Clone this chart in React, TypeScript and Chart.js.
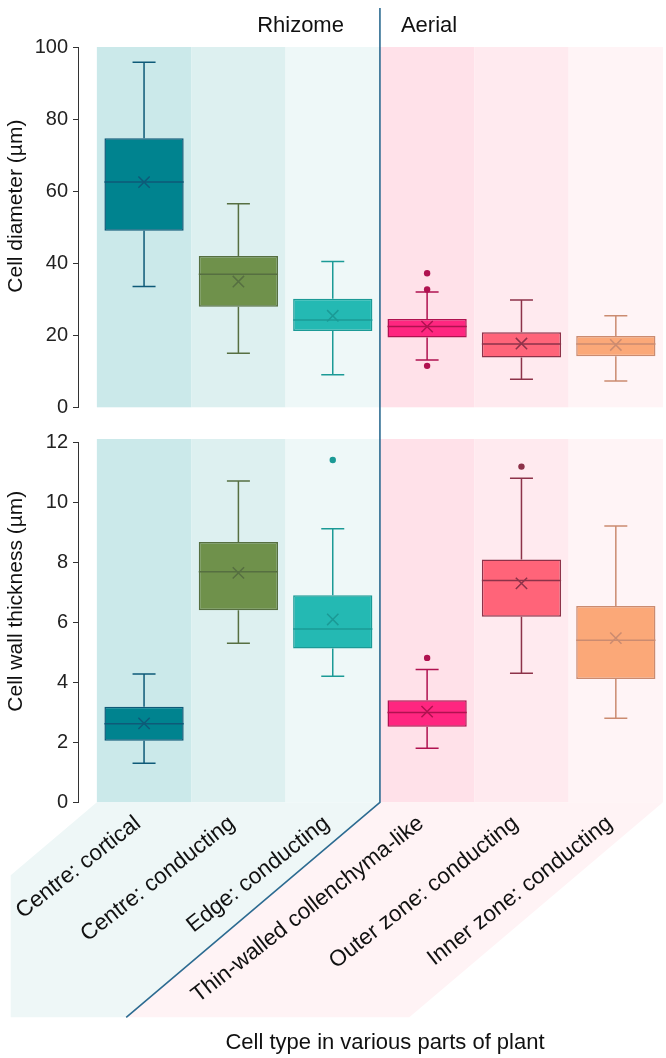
import React, { useEffect, useRef } from "react";
import { Chart, registerables } from "chart.js";

Chart.register(...registerables);

const FONT = '"Liberation Sans", Arial, Helvetica, sans-serif';

const categories = [
  "Centre: cortical",
  "Centre: conducting",
  "Edge: conducting",
  "Thin-walled collenchyma-like",
  "Outer zone: conducting",
  "Inner zone: conducting",
];
const groups = ["Rhizome", "Aerial"];
const xTitle = "Cell type in various parts of plant";

// Cell diameter (µm)
const diameterMin = [33.5, 15.0, 9.0, 13.1, 7.8, 7.3];
const diameterQ1 = [49.0, 27.9, 21.2, 19.4, 13.8, 14.2];
const diameterMedian = [62.5, 36.9, 24.2, 22.4, 17.6, 17.6];
const diameterQ3 = [74.7, 42.0, 30.1, 24.5, 20.8, 19.8];
const diameterMax = [95.8, 56.5, 40.5, 32.0, 29.8, 25.4];
const diameterMean = [62.5, 34.9, 25.4, 22.4, 17.7, 17.3];
const diameterOutlierCategory = [3, 3, 3];
const diameterOutlierValue = [37.2, 32.7, 11.5];
const diameterTicks = [0, 20, 40, 60, 80, 100];

// Cell wall thickness (µm)
const wallMin = [1.3, 5.3, 4.2, 1.8, 4.3, 2.8];
const wallQ1 = [2.05, 6.4, 5.12, 2.52, 6.18, 4.11];
const wallMedian = [2.62, 7.68, 5.77, 2.99, 7.39, 5.4];
const wallQ3 = [3.18, 8.67, 6.9, 3.4, 8.09, 6.54];
const wallMax = [4.27, 10.7, 9.11, 4.42, 10.79, 9.2];
const wallMean = [2.63, 7.64, 6.09, 3.02, 7.29, 5.47];
const wallOutlierCategory = [2, 3, 4];
const wallOutlierValue = [11.4, 4.81, 11.18];
const wallTicks = [0, 2, 4, 6, 8, 10, 12];

const boxFill = ["#00838f", "#6f914b", "#24b9b3", "#ff2680", "#ff6479", "#fba878"];
const boxEdge = ["#0e5a78", "#566f41", "#1b9a96", "#b01250", "#8d3249", "#cb8b70"];
const columnShade = ["#cbe9ea", "#ddf0f0", "#eef8f8", "#ffe1e9", "#ffeaef", "#fff4f6"];
const bandShade = ["#eef7f7", "#fff3f5"];
const DIVIDER = "#2c6b91";

const X_MIN = -0.7;
const X_MAX = 5.5;
const CAP_HALF = 11.5;

type Panel = {
  top: number;
  height: number;
  padTop: number;
  padBottom: number;
  xAxisHeight: number;
  yMax: number;
  ticks: number[];
  min: number[];
  q1: number[];
  median: number[];
  q3: number[];
  max: number[];
  mean: number[];
  outCat: number[];
  outVal: number[];
  yTitle: string;
  shadeExtra: number;
  dividerTop: number;
  showGroups: boolean;
  showCategories: boolean;
};

const panels: Panel[] = [
  {
    top: 0,
    height: 425,
    padTop: 47,
    padBottom: 17.7,
    xAxisHeight: 0,
    yMax: 100,
    ticks: diameterTicks,
    min: diameterMin,
    q1: diameterQ1,
    median: diameterMedian,
    q3: diameterQ3,
    max: diameterMax,
    mean: diameterMean,
    outCat: diameterOutlierCategory,
    outVal: diameterOutlierValue,
    yTitle: "Cell diameter (µm)",
    shadeExtra: 0,
    dividerTop: 8,
    showGroups: true,
    showCategories: false,
  },
  {
    top: 425,
    height: 633,
    padTop: 15,
    padBottom: 0,
    xAxisHeight: 255.7,
    yMax: 12,
    ticks: wallTicks,
    min: wallMin,
    q1: wallQ1,
    median: wallMedian,
    q3: wallQ3,
    max: wallMax,
    mean: wallMean,
    outCat: wallOutlierCategory,
    outVal: wallOutlierValue,
    yTitle: "Cell wall thickness (µm)",
    shadeExtra: 3,
    dividerTop: 0,
    showGroups: false,
    showCategories: true,
  },
];

function makeDecor(p: Panel) {
  const BAND_DEPTH = 215;
  const SLANT = 1.18;
  const BAND_LEFT = 10.7;
  return {
    id: "panelDecor",
    beforeDraw(chart: any) {
      const { ctx, chartArea: a } = chart;
      const x = chart.scales.x;
      ctx.save();
      columnShade.forEach((c, i) => {
        const l = x.getPixelForValue(i - 0.5);
        const r = x.getPixelForValue(i + 0.5);
        ctx.fillStyle = c;
        ctx.fillRect(l, a.top - p.shadeExtra, r - l, a.bottom - a.top + p.shadeExtra);
      });
      const xDiv = x.getPixelForValue(2.5);
      const yb = a.bottom + BAND_DEPTH;
      const xSlant = xDiv - SLANT * BAND_DEPTH;
      if (p.showCategories) {
        const left = x.getPixelForValue(-0.5);
        const right = x.getPixelForValue(5.5);
        ctx.fillStyle = bandShade[0];
        ctx.beginPath();
        ctx.moveTo(left, a.bottom);
        ctx.lineTo(xDiv, a.bottom);
        ctx.lineTo(xSlant, yb);
        ctx.lineTo(BAND_LEFT, yb);
        ctx.lineTo(BAND_LEFT, a.bottom + (left - BAND_LEFT) / SLANT);
        ctx.closePath();
        ctx.fill();
        ctx.fillStyle = bandShade[1];
        ctx.beginPath();
        ctx.moveTo(xDiv, a.bottom);
        ctx.lineTo(right, a.bottom);
        ctx.lineTo(right - SLANT * BAND_DEPTH, yb);
        ctx.lineTo(xSlant, yb);
        ctx.closePath();
        ctx.fill();
      }
      ctx.strokeStyle = DIVIDER;
      ctx.lineWidth = 1.6;
      ctx.beginPath();
      ctx.moveTo(xDiv, p.dividerTop);
      if (p.showCategories) {
        ctx.lineTo(xDiv, a.bottom);
        ctx.lineTo(xSlant, yb);
      } else {
        ctx.lineTo(xDiv, chart.height);
      }
      ctx.stroke();
      ctx.restore();
    },
    afterDatasetDraw(chart: any, args: any) {
      if (args.meta.type !== "bar") return;
      const { ctx } = chart;
      const y = chart.scales.y;
      ctx.save();
      ctx.lineWidth = 1.5;
      args.meta.data.forEach((bar: any, i: number) => {
        const { x: xc, width } = bar.getProps(["x", "width"], true);
        const pMin = y.getPixelForValue(p.min[i]);
        const pQ1 = y.getPixelForValue(p.q1[i]);
        const pMed = y.getPixelForValue(p.median[i]);
        const pQ3 = y.getPixelForValue(p.q3[i]);
        const pMax = y.getPixelForValue(p.max[i]);
        ctx.strokeStyle = boxEdge[i];
        ctx.beginPath();
        ctx.moveTo(xc, pQ3);
        ctx.lineTo(xc, pMax);
        ctx.moveTo(xc - CAP_HALF, pMax);
        ctx.lineTo(xc + CAP_HALF, pMax);
        ctx.moveTo(xc, pQ1);
        ctx.lineTo(xc, pMin);
        ctx.moveTo(xc - CAP_HALF, pMin);
        ctx.lineTo(xc + CAP_HALF, pMin);
        ctx.moveTo(xc - width / 2, pMed);
        ctx.lineTo(xc + width / 2, pMed);
        ctx.stroke();
      });
      ctx.restore();
    },
    afterDraw(chart: any) {
      const { ctx, chartArea: a } = chart;
      const x = chart.scales.x;
      const xDiv = x.getPixelForValue(2.5);
      ctx.save();
      ctx.fillStyle = "#111";
      ctx.font = `22px ${FONT}`;
      ctx.textBaseline = "alphabetic";
      if (p.showGroups) {
        ctx.textAlign = "right";
        ctx.fillText(groups[0], xDiv - 36, 31.7);
        ctx.textAlign = "left";
        ctx.fillText(groups[1], xDiv + 21, 31.7);
      }
      // y-axis title
      ctx.font = `21px ${FONT}`;
      ctx.textAlign = "center";
      ctx.save();
      ctx.translate(21.7, (a.top + a.bottom) / 2 - 21);
      ctx.rotate(-Math.PI / 2);
      ctx.fillText(p.yTitle, 0, 0);
      ctx.restore();
      if (p.showCategories) {
        ctx.font = `22px ${FONT}`;
        ctx.fillText(xTitle, 385, 624);
      }
      ctx.restore();
    },
  };
}

function makeConfig(p: Panel): any {
  const tickFont = { family: FONT, size: 20 };
  return {
    type: "bar",
    data: {
      datasets: [
        {
          type: "bar",
          order: 3,
          data: categories.map((_, i) => ({ x: i, y: [p.q1[i], p.q3[i]] })),
          backgroundColor: boxFill,
          borderColor: boxEdge,
          borderWidth: 1.5,
          borderSkipped: false,
          barPercentage: 0.84,
          categoryPercentage: 1,
        },
        {
          type: "scatter",
          order: 2,
          data: p.outCat.map((c, i) => ({ x: c, y: p.outVal[i] })),
          pointStyle: "circle",
          pointRadius: 3.2,
          pointBorderWidth: 0,
          pointBackgroundColor: p.outCat.map((c) => boxEdge[c]),
          pointBorderColor: p.outCat.map((c) => boxEdge[c]),
        },
        {
          type: "scatter",
          order: 1,
          data: p.mean.map((m, i) => ({ x: i, y: m })),
          pointStyle: "crossRot",
          pointRadius: 8,
          pointBorderWidth: 1.5,
          pointBorderColor: boxEdge,
          pointBackgroundColor: "transparent",
        },
      ],
    },
    options: {
      animation: false,
      responsive: false,
      devicePixelRatio: 1,
      events: [],
      layout: {
        autoPadding: false,
        padding: { top: p.padTop, right: 3, bottom: p.padBottom, left: 0 },
      },
      plugins: { legend: { display: false }, tooltip: { enabled: false } },
      scales: {
        x: {
          type: "linear",
          min: X_MIN,
          max: X_MAX,
          offset: false,
          display: p.showCategories,
          afterBuildTicks: (s: any) => {
            s.ticks = categories.map((_, i) => ({ value: i }));
          },
          afterFit: (s: any) => {
            if (p.showCategories) s.height = p.xAxisHeight;
          },
          border: { display: false },
          grid: { display: false, drawTicks: false },
          ticks: {
            autoSkip: false,
            minRotation: 38,
            maxRotation: 38,
            padding: 8,
            labelOffset: -6,
            color: "#111",
            font: { family: FONT, size: 22.5 },
            callback: (v: any) => categories[Math.round(Number(v))] ?? "",
          },
        },
        y: {
          type: "linear",
          min: 0,
          max: p.yMax,
          afterBuildTicks: (s: any) => {
            s.ticks = p.ticks.map((v) => ({ value: v }));
          },
          afterFit: (s: any) => {
            s.width = 78;
          },
          border: { display: true, color: "#333", width: 1 },
          grid: { drawOnChartArea: false, drawTicks: true, tickLength: 5, color: "#333" },
          ticks: { color: "#222", font: tickFont, padding: 5 },
        },
      },
    },
    plugins: [makeDecor(p)],
  };
}

function PanelCanvas({ panel }: { panel: Panel }) {
  const ref = useRef<HTMLCanvasElement | null>(null);
  useEffect(() => {
    if (!ref.current) return;
    const chart = new Chart(ref.current, makeConfig(panel));
    return () => chart.destroy();
  }, [panel]);
  return (
    <canvas
      ref={ref}
      width={666}
      height={panel.height}
      style={{ position: "absolute", left: 0, top: panel.top, width: 666, height: panel.height, display: "block" }}
    />
  );
}

export default function App() {
  return (
    <div style={{ position: "absolute", left: 0, top: 0, width: 666, height: 1058, background: "#fff", overflow: "hidden" }}>
      {panels.map((p, i) => (
        <PanelCanvas key={i} panel={p} />
      ))}
    </div>
  );
}
